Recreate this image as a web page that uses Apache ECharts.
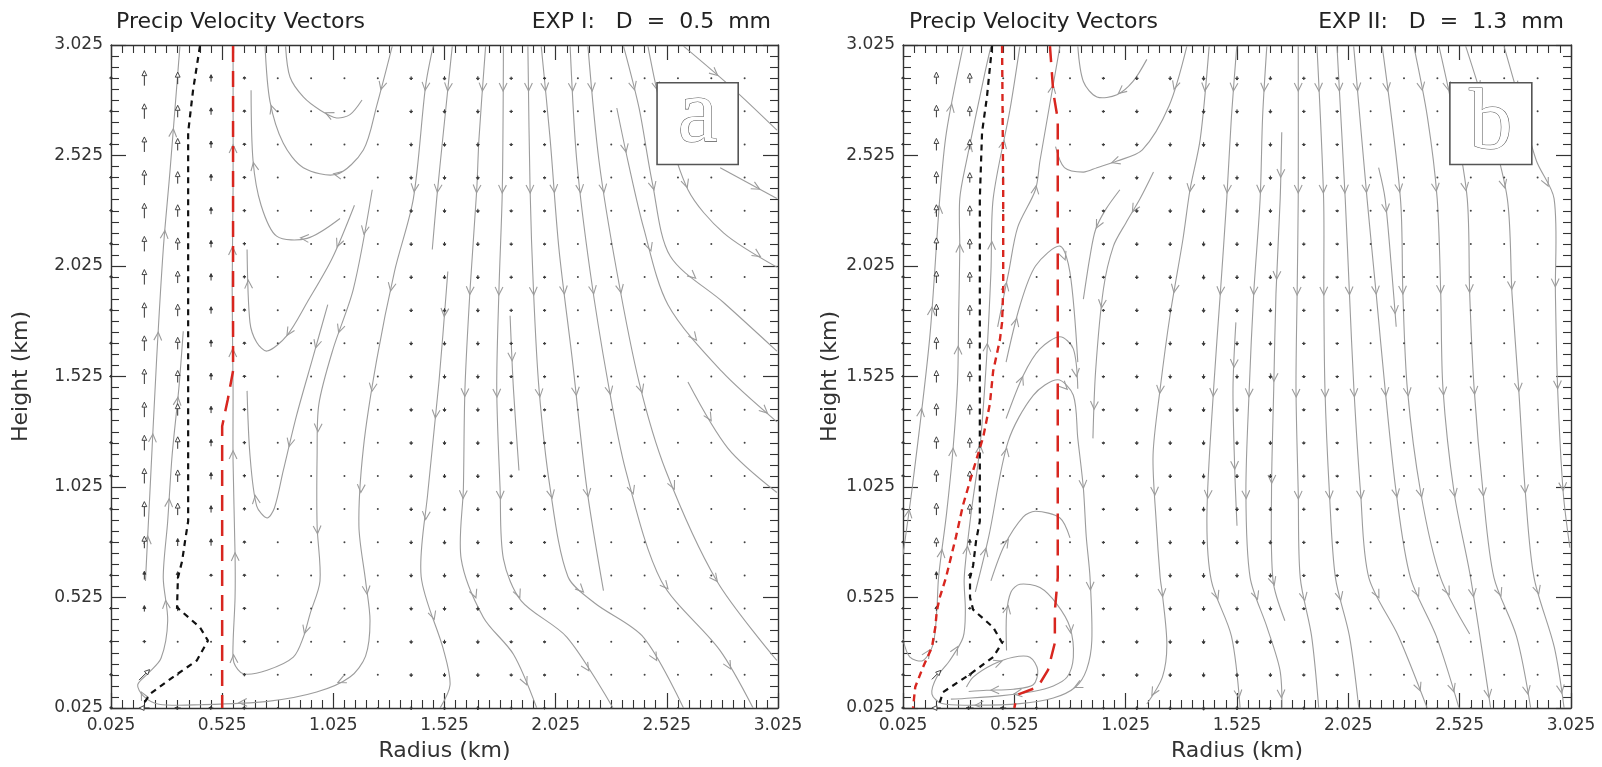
<!DOCTYPE html>
<html>
<head>
<meta charset="utf-8">
<script src="https://cdn.jsdelivr.net/npm/echarts@6.0.0/dist/echarts.min.js"></script>
<style>
html, body { margin: 0; padding: 0; background: #fff; }
#chart { width: 1602px; height: 767px; }
</style>
</head>
<body>
<div id="chart"></div>
<script>
// ---- data (km) ----
var gridKm = [0.025, 0.175, 0.325, 0.475, 0.625, 0.775, 0.925, 1.075, 1.225, 1.375,
              1.525, 1.675, 1.825, 1.975, 2.125, 2.275, 2.425, 2.575, 2.725, 2.875];

// vertical precip velocity per column (m/s, + up)
var wColA = [1.0, 5.0, 4.0, 2.3, 1.0, 0.3, 0.3, -0.3, -0.6, -1.2, -1.3, -1.3, -1.0, -0.8, -0.5, -0.4, -0.3, -0.3, -0.3, -0.3];
var wColB = [0.8, 4.0, 3.3, 0.5, 0.3, 0.3, -0.8, -1.2, -1.3, -1.5, -1.3, -1.3, -1.0, -0.8, -0.6, -0.4, -0.3, -0.3, -0.3, -0.3];

// low level vectors [col, row, u, w]
var lowA = [[1,0,-3.5,0],[2,0,-2,0],[3,0,-1.5,0],[4,0,-1.2,0],[5,0,-0.6,0],[6,0,-0.3,0],
            [1,1,3.5,3.5],[2,1,0.2,0.3],[3,1,0,0.3],
            [1,2,0,1.0],[2,2,0,0.7],[3,2,0,0.3],
            [1,3,0,2.0],[2,3,0,1.7],[3,3,0,0.5],
            [1,4,0,2.8],[2,4,0,2.5],[3,4,0,1.0],
            [1,5,0,4.0],[2,5,0,2.5]];
var lowB = [[1,0,-3,0],[2,0,-2.5,0],[3,0,-2,0],[4,0,-1,0],[5,0,-0.5,0],
            [1,1,3,3],[2,1,1.0,0.5],[3,1,0.5,0],
            [1,2,0,0.5],[2,2,0,0.5],[3,2,0.3,0.3],
            [1,3,0,1.5],[2,3,0,0.8],
            [1,4,0,2.5],[2,4,0,1.5],
            [1,5,0,3.0],[2,5,0,2.0]];

// streamlines, points in flow order
var streamA = [
  [[0.18,0.6],[0.2,1.0],[0.23,1.6],[0.26,2.1],[0.29,2.45],[0.335,3.02]],
  [[1.474,3.02],[1.44,2.84],[1.385,2.33],[1.3,2.0],[1.22,1.6],[1.16,1.2],[1.14,0.85],[1.17,0.6],[1.19,0.42],[1.17,0.26],[1.1,0.165],[0.95,0.097],[0.73,0.055],[0.43,0.04],[0.24,0.042],[0.17,0.08],[0.145,0.13],[0.19,0.18],[0.25,0.25],[0.28,0.42],[0.26,0.615],[0.28,0.87],[0.3,1.17],[0.33,1.47],[0.35,1.73]],
  [[1.2,2.37],[1.115,1.92],[1.024,1.65],[0.96,1.4],[0.952,1.17],[0.952,0.85],[0.965,0.6],[0.92,0.45],[0.89,0.345],[0.845,0.255],[0.727,0.196],[0.62,0.18],[0.578,0.23],[0.574,0.313],[0.583,0.525],[0.583,0.72],[0.574,1.14],[0.574,1.47],[0.57,1.92],[0.574,2.37],[0.574,3.02]],
  [[1.12,2.3],[1.02,2.06],[0.907,1.86],[0.816,1.71],[0.727,1.64],[0.68,1.68],[0.65,1.77],[0.637,2.1]],
  [[1.0,1.85],[0.93,1.6],[0.86,1.35],[0.8,1.1],[0.76,0.93],[0.727,0.885],[0.68,0.94],[0.65,1.17],[0.637,1.46]],
  [[1.154,2.776],[1.1,2.71],[1.04,2.695],[0.966,2.73],[0.89,2.79],[0.83,2.88],[0.81,3.02]],
  [[1.29,3.02],[1.22,2.75],[1.16,2.55],[1.04,2.44],[0.89,2.47],[0.8,2.58],[0.74,2.77],[0.718,3.02]],
  [[1.055,2.24],[0.907,2.15],[0.77,2.16],[0.7,2.3],[0.664,2.5],[0.655,2.82]],
  [[1.54,2.0],[1.5,1.5],[1.45,1.0],[1.42,0.62],[1.52,0.29],[1.55,0.13],[1.505,0.025]],
  [[1.56,3.02],[1.52,2.63],[1.49,2.33],[1.47,2.1]],
  [[1.71,3.02],[1.68,2.6],[1.67,2.37],[1.64,1.92],[1.617,1.47],[1.61,1.02],[1.6,0.7],[1.7,0.435],[1.835,0.268],[1.94,0.025]],
  [[1.79,3.02],[1.785,2.37],[1.77,1.92],[1.76,1.47],[1.775,1.02],[1.79,0.7],[1.87,0.51],[2.076,0.345],[2.283,0.025]],
  [[1.82,1.8],[1.835,1.47],[1.86,1.1]],
  [[1.9,3.02],[1.91,2.37],[1.925,1.92],[1.95,1.47],[2.0,1.02],[2.08,0.62],[2.2,0.5],[2.42,0.345],[2.6,0.025]],
  [[1.96,3.02],[2.0,2.6],[2.04,2.1],[2.1,1.6],[2.165,1.02],[2.24,0.556]],
  [[2.09,3.02],[2.12,2.5],[2.18,2.0],[2.26,1.5],[2.34,1.1],[2.5,0.6],[2.764,0.286],[2.913,0.025]],
  [[2.17,3.02],[2.22,2.5],[2.3,2.0],[2.4,1.5],[2.52,1.1],[2.75,0.6],[3.02,0.24]],
  [[2.3,2.74],[2.35,2.5],[2.42,2.2],[2.53,1.85],[2.77,1.55],[3.02,1.32]],
  [[2.33,3.02],[2.4,2.74],[2.46,2.4],[2.54,2.07],[2.78,1.86],[3.02,1.64]],
  [[2.44,3.02],[2.5,2.74],[2.62,2.37],[2.78,2.175],[3.02,2.02]],
  [[2.6,3.02],[2.82,2.83],[3.02,2.64]],
  [[2.765,2.47],[3.02,2.33]],
  [[2.62,1.5],[2.8,1.2],[3.02,1.0]]
];

var streamB = [
  [[0.025,0.72],[0.07,1.05],[0.145,1.7],[0.19,2.33],[0.22,2.63],[0.295,3.02]],
  [[0.025,0.336],[0.056,0.255],[0.115,0.24],[0.16,0.313],[0.177,0.47],[0.185,0.62],[0.22,0.9],[0.25,1.2],[0.27,1.5],[0.275,1.8],[0.28,2.1],[0.28,2.33],[0.31,2.5],[0.393,2.9],[0.42,3.02]],
  [[0.35,0.55],[0.41,0.8],[0.497,1.23],[0.61,1.44],[0.72,1.51],[0.79,1.44],[0.81,1.245],[0.835,1.02],[0.848,0.8],[0.865,0.615],[0.873,0.33],[0.85,0.2],[0.8,0.12],[0.7,0.07],[0.55,0.045],[0.35,0.038],[0.2,0.045],[0.155,0.088],[0.177,0.165],[0.235,0.24],[0.295,0.345],[0.305,0.466],[0.3,0.615],[0.33,0.9],[0.37,1.2],[0.4,1.6],[0.42,2.0],[0.43,2.33],[0.505,2.73],[0.55,3.02]],
  [[0.488,1.59],[0.55,1.845],[0.62,2.025],[0.73,2.115],[0.775,1.995],[0.81,1.59]],
  [[0.488,1.335],[0.565,1.53],[0.64,1.65],[0.73,1.705],[0.79,1.65],[0.81,1.47]],
  [[0.45,1.75],[0.5,2.0],[0.54,2.2],[0.62,2.37],[0.64,2.5],[0.73,3.02]],
  [[0.42,0.6],[0.48,0.76],[0.565,0.89],[0.62,0.915],[0.73,0.885],[0.775,0.795]],
  [[0.49,0.285],[0.49,0.45],[0.51,0.55],[0.55,0.585],[0.64,0.57],[0.716,0.495],[0.775,0.39],[0.79,0.255],[0.762,0.165],[0.7,0.125],[0.61,0.1],[0.46,0.08],[0.3,0.068],[0.24,0.065]],
  [[0.31,0.12],[0.34,0.165],[0.43,0.223],[0.52,0.255],[0.595,0.255],[0.63,0.196],[0.61,0.13],[0.52,0.11],[0.4,0.105],[0.32,0.1]],
  [[1.4,3.02],[1.36,2.6],[1.314,2.37],[1.282,2.145],[1.224,1.8],[1.18,1.47],[1.148,1.17],[1.162,0.87],[1.18,0.615],[1.19,0.54],[1.21,0.313],[1.19,0.165],[1.12,0.043]],
  [[1.15,2.45],[1.09,2.33],[1.026,2.22],[0.97,2.115],[0.925,1.92],[0.89,1.55],[0.878,1.245]],
  [[0.999,2.37],[0.935,2.28],[0.89,2.19],[0.865,2.07],[0.835,1.875]],
  [[1.12,2.96],[1.058,2.86],[0.986,2.8],[0.896,2.79],[0.835,2.86],[0.81,3.02]],
  [[1.3,3.02],[1.22,2.75],[1.1,2.55],[0.986,2.5],[0.896,2.47],[0.835,2.45],[0.75,2.47],[0.71,2.565]],
  [[1.524,3.02],[1.5,2.7],[1.479,2.33],[1.45,1.9],[1.42,1.47],[1.39,0.9],[1.41,0.6],[1.5,0.35],[1.539,0.025]],
  [[1.52,1.77],[1.507,1.47],[1.515,1.1],[1.525,0.85]],
  [[1.659,3.02],[1.64,2.7],[1.629,2.33],[1.6,1.9],[1.58,1.47],[1.565,1.0],[1.584,0.615],[1.66,0.39],[1.718,0.196],[1.727,0.025]],
  [[1.726,2.63],[1.719,2.33],[1.7,1.9],[1.69,1.47],[1.68,1.0],[1.687,0.6],[1.74,0.42]],
  [[1.8,3.02],[1.8,2.33],[1.795,1.9],[1.79,1.47],[1.8,1.0],[1.809,0.615],[1.86,0.35],[1.892,0.025]],
  [[1.884,3.02],[1.914,2.33],[1.915,1.9],[1.92,1.47],[1.94,1.0],[1.967,0.615],[2.03,0.35],[2.072,0.025]],
  [[1.974,3.02],[2.011,2.33],[2.03,1.9],[2.05,1.47],[2.08,1.0],[2.117,0.615],[2.25,0.35],[2.379,0.025]],
  [[2.049,3.02],[2.109,2.33],[2.15,1.9],[2.19,1.47],[2.24,1.0],[2.304,0.615],[2.42,0.35],[2.522,0.025]],
  [[2.161,2.47],[2.19,2.33],[2.22,2.0],[2.24,1.75]],
  [[2.177,3.02],[2.259,2.33],[2.27,1.9],[2.29,1.47],[2.35,1.0],[2.439,0.615],[2.57,0.36]],
  [[2.319,3.02],[2.38,2.7],[2.424,2.33],[2.44,1.9],[2.45,1.47],[2.5,1.0],[2.574,0.615],[2.664,0.025]],
  [[2.432,3.02],[2.5,2.7],[2.559,2.33],[2.57,1.9],[2.59,1.47],[2.63,1.0],[2.679,0.615],[2.78,0.35],[2.844,0.025]],
  [[2.552,3.02],[2.65,2.7],[2.739,2.33],[2.76,1.9],[2.79,1.47],[2.82,1.0],[2.859,0.615],[2.95,0.3],[2.994,0.025]],
  [[2.724,3.02],[2.8,2.75],[2.87,2.5],[2.949,2.33],[2.955,1.9],[2.965,1.47],[2.99,1.0],[3.02,0.75]]
];

// contour traces
var blackA = [[0.425,3.02],[0.394,2.82],[0.372,2.63],[0.372,2.33],[0.372,0.87],[0.358,0.78],[0.345,0.69],[0.326,0.615],[0.322,0.48],[0.425,0.39],[0.461,0.33],[0.411,0.24],[0.304,0.165],[0.2,0.088],[0.169,0.04]];
var redA = [[0.574,3.02],[0.574,1.55],[0.55,1.42],[0.525,1.3],[0.525,0.025]];
var blackB = [[0.425,3.02],[0.402,2.79],[0.38,2.63],[0.37,2.33],[0.37,0.87],[0.353,0.78],[0.34,0.67],[0.326,0.615],[0.326,0.525],[0.34,0.47],[0.43,0.39],[0.47,0.32],[0.43,0.255],[0.326,0.178],[0.205,0.097],[0.19,0.05]];
var redB1 = [[0.47,3.02],[0.475,2.37],[0.475,1.92],[0.47,1.77],[0.46,1.69],[0.43,1.55],[0.415,1.4],[0.385,1.25],[0.34,1.1],[0.295,0.945],[0.263,0.8],[0.218,0.615],[0.19,0.525],[0.177,0.465],[0.17,0.39],[0.155,0.3],[0.115,0.21],[0.08,0.12],[0.07,0.025]];
var redB2 = [[0.685,3.02],[0.7,2.81],[0.72,2.69],[0.72,2.5],[0.72,0.615],[0.707,0.465],[0.707,0.32],[0.676,0.196],[0.63,0.12],[0.537,0.084],[0.525,0.025]];

var tickFmt = function (v) { return v.toFixed(3); };

// ---- helpers ----
function vectorItems(wCol, low) {
  var n = gridKm.length, items = [];
  for (var c = 0; c < n; c++) {
    for (var r = 0; r < n; r++) items.push([gridKm[c], gridKm[r], 0, wCol[c]]);
  }
  low.forEach(function (o) {
    var it = items[o[0] * n + o[1]];
    it[2] = o[2]; it[3] = o[3];
  });
  return items;
}

function renderVector(params, api) {
  var c = api.coord([api.value(0), api.value(1)]);
  var u = api.value(2), w = api.value(3);
  var len = Math.sqrt(u * u + w * w) * 3;
  if (len < 2.2) {
    return { type: 'circle', shape: { cx: c[0], cy: c[1], r: 1 }, style: { fill: '#444' } };
  }
  var dx = u * 3 / len, dy = -w * 3 / len;
  var tail = [c[0] - dx * len / 2, c[1] - dy * len / 2];
  var tip = [c[0] + dx * len / 2, c[1] + dy * len / 2];
  var hl = len >= 9 ? 5 : Math.min(3, len * 0.5), hw = len >= 9 ? 2.4 : 1.5;
  var base = [tip[0] - dx * hl, tip[1] - dy * hl];
  var head = [tip, [base[0] - dy * hw, base[1] + dx * hw], [base[0] + dy * hw, base[1] - dx * hw]];
  return {
    type: 'group',
    children: [
      { type: 'line', shape: { x1: tail[0], y1: tail[1], x2: base[0], y2: base[1] }, style: { stroke: '#333', lineWidth: 1 } },
      { type: 'polygon', shape: { points: head }, style: { fill: len >= 9 ? '#fff' : '#333', stroke: '#333', lineWidth: 0.9 } }
    ]
  };
}

function streamRender(lines) {
  return function (params, api) {
    var pts = lines[params.dataIndex].map(function (p) { return api.coord(p); });
    var kids = [{ type: 'polyline', shape: { points: pts, smooth: 0.3 }, style: { stroke: '#9c9c9c', lineWidth: 1.1, fill: null } }];
    var seg = [], total = 0;
    for (var i = 1; i < pts.length; i++) {
      var l = Math.hypot(pts[i][0] - pts[i - 1][0], pts[i][1] - pts[i - 1][1]);
      seg.push(l); total += l;
    }
    var s = 45, acc = 0, k = 0, ca = Math.cos(0.45), sa = Math.sin(0.45), L = 9;
    while (s < total - 10) {
      while (k < seg.length - 1 && acc + seg[k] < s) { acc += seg[k]; k++; }
      if (seg[k] > 0) {
        var t = (s - acc) / seg[k], a = pts[k], b = pts[k + 1];
        var x = a[0] + (b[0] - a[0]) * t, y = a[1] + (b[1] - a[1]) * t;
        var ux = (b[0] - a[0]) / seg[k], uy = (b[1] - a[1]) / seg[k];
        var p1 = [x - L * (ux * ca - uy * sa), y - L * (uy * ca + ux * sa)];
        var p2 = [x - L * (ux * ca + uy * sa), y - L * (uy * ca - ux * sa)];
        kids.push({ type: 'polyline', shape: { points: [p1, [x, y], p2] }, style: { stroke: '#9c9c9c', lineWidth: 1.1, fill: null } });
      }
      s += 102;
    }
    return { type: 'group', children: kids };
  };
}

function xAxes(g) {
  var base = {
    type: 'value', gridIndex: g, min: 0.025, max: 3.025, interval: 0.5,
    axisLine: { show: true, onZero: false, lineStyle: { color: '#333', width: 1.4 } },
    axisTick: { show: true, inside: true, length: 15, lineStyle: { color: '#333', width: 1.2 } },
    minorTick: { show: true, splitNumber: 10, length: 8, lineStyle: { color: '#333', width: 1.1 } },
    splitLine: { show: false }
  };
  return [
    Object.assign({}, base, {
      position: 'bottom',
      axisLabel: { formatter: tickFmt, fontSize: 17, color: '#333', margin: 9, fontFamily: 'DejaVu Sans' },
      name: 'Radius (km)', nameLocation: 'middle', nameGap: 32,
      nameTextStyle: { fontSize: 22, color: '#333', fontFamily: 'DejaVu Sans' }
    }),
    Object.assign({}, base, { position: 'top', axisLabel: { show: false } })
  ];
}

function yAxes(g, gap) {
  var base = {
    type: 'value', gridIndex: g, min: 0.025, max: 3.025, interval: 0.5,
    axisLine: { show: true, onZero: false, lineStyle: { color: '#333', width: 1.4 } },
    axisTick: { show: true, inside: true, length: 15, lineStyle: { color: '#333', width: 1.2 } },
    minorTick: { show: true, splitNumber: 10, length: 8, lineStyle: { color: '#333', width: 1.1 } },
    splitLine: { show: false }
  };
  return [
    Object.assign({}, base, {
      position: 'left',
      axisLabel: { formatter: tickFmt, fontSize: 17, color: '#333', margin: 8, fontFamily: 'DejaVu Sans' },
      name: 'Height (km)', nameLocation: 'middle', nameGap: gap,
      nameTextStyle: { fontSize: 22, color: '#333', fontFamily: 'DejaVu Sans' }
    }),
    Object.assign({}, base, { position: 'right', axisLabel: { show: false } })
  ];
}

function dashed(g, data, color, dash, width) {
  return {
    type: 'line', xAxisIndex: g * 2, yAxisIndex: g * 2, data: data, showSymbol: false, symbol: 'none',
    silent: true, z: 5, lineStyle: { color: color, width: width, type: dash }
  };
}

function boxSeries(g, box, letter) {
  return {
    type: 'custom', xAxisIndex: g * 2, yAxisIndex: g * 2, silent: true, z: 10,
    data: [[box[0], box[1]]],
    renderItem: function (params, api) {
      var p0 = api.coord([box[0], box[3]]), p1 = api.coord([box[2], box[1]]);
      var cx = (p0[0] + p1[0]) / 2, cy = (p0[1] + p1[1]) / 2;
      return {
        type: 'group',
        children: [
          { type: 'rect', shape: { x: p0[0], y: p0[1], width: p1[0] - p0[0], height: p1[1] - p0[1] }, style: { fill: '#fff', stroke: '#555', lineWidth: 1.6 } },
          { type: 'text', style: { text: letter, x: cx, y: cy + (letter === 'a' ? -6 : 2), align: 'center', verticalAlign: 'middle', fontSize: letter === 'a' ? 90 : 86, fontFamily: 'Liberation Serif', fill: '#fff', stroke: '#555', lineWidth: 1.1 } }
        ]
      };
    }
  };
}

function panelSeries(g, lines, wCol, low) {
  return [
    {
      type: 'custom', xAxisIndex: g * 2, yAxisIndex: g * 2, clip: true, silent: true, z: 2,
      data: lines.map(function (l, i) { return [l[0][0], l[0][1], i]; }),
      renderItem: streamRender(lines)
    },
    {
      type: 'custom', xAxisIndex: g * 2, yAxisIndex: g * 2, silent: true, z: 3,
      data: vectorItems(wCol, low),
      renderItem: renderVector
    }
  ];
}

// ---- chart ----
var myChart = echarts.init(document.getElementById('chart'));
var titleStyle = { fontSize: 22, fontWeight: 'normal', color: '#222', fontFamily: 'DejaVu Sans' };
var option = {
  animation: false,
  backgroundColor: '#fff',
  title: [
    { text: 'Precip Velocity Vectors', left: 111, top: 6, textStyle: titleStyle },
    { text: 'EXP I:   D  =  0.5  mm', right: 826, top: 6, textStyle: titleStyle },
    { text: 'Precip Velocity Vectors', left: 904, top: 6, textStyle: titleStyle },
    { text: 'EXP II:   D  =  1.3  mm', right: 33, top: 6, textStyle: titleStyle }
  ],
  grid: [
    { left: 111, top: 45, width: 667, height: 666 },
    { left: 903, top: 45, width: 668, height: 666 }
  ],
  xAxis: xAxes(0).concat(xAxes(1)),
  yAxis: yAxes(0, 79).concat(yAxes(1, 62)),
  series: [].concat(
    panelSeries(0, streamA, wColA, lowA),
    panelSeries(1, streamB, wColB, lowB),
    [
      dashed(0, blackA, '#111', [6, 5], 2.2),
      dashed(0, redA, '#d8261f', [16, 9], 2.5),
      dashed(1, blackB, '#111', [6, 5], 2.2),
      dashed(1, redB1, '#d8261f', [7, 5], 2.4),
      dashed(1, redB2, '#d8261f', [16, 10], 2.5),
      boxSeries(0, [2.481, 2.484, 2.846, 2.854], 'a'),
      boxSeries(1, [2.481, 2.484, 2.849, 2.854], 'b')
    ]
  )
};
myChart.setOption(option);
window.addEventListener('resize', function () {
  myChart.resize();
});
</script>
</body>
</html>
